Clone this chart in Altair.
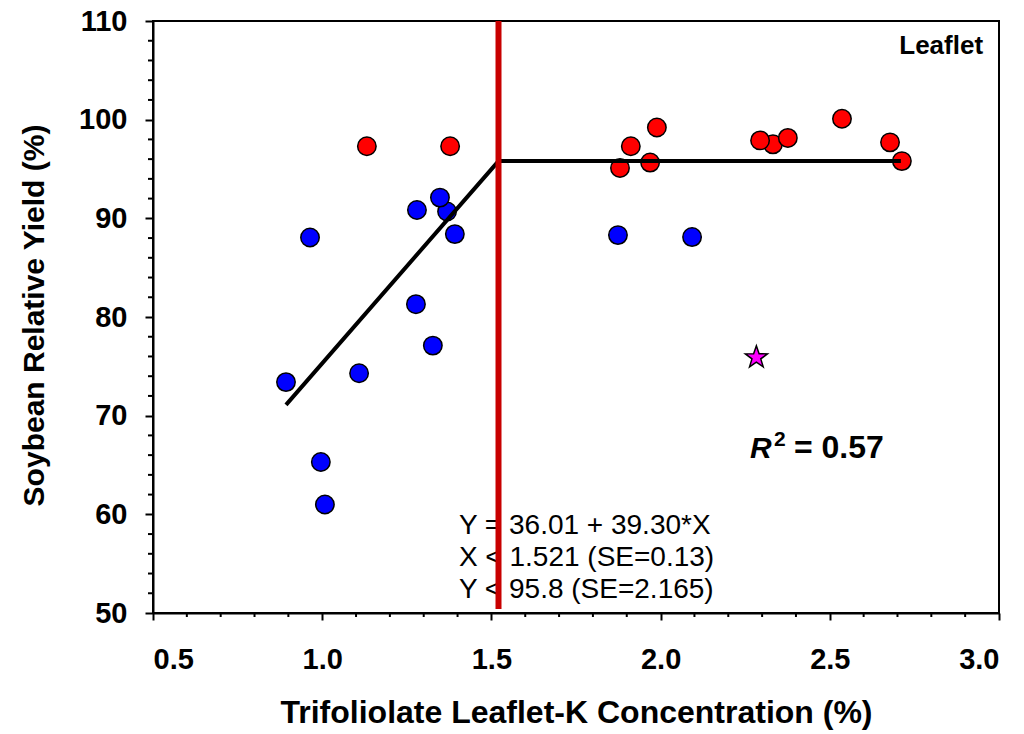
import altair as alt
import pandas as pd

# ---- data ----
blue_x = [0.893, 0.964, 0.996, 1.008, 1.109, 1.277, 1.280, 1.327, 1.369, 1.348, 1.392, 1.874, 2.093]
blue_y = [73.4, 88.05, 65.3, 61.0, 74.3, 81.3, 90.85, 77.1, 90.7, 92.1, 88.4, 88.3, 88.1]
red_x = [1.132, 1.378, 1.880, 1.912, 1.989, 1.969, 2.332, 2.294, 2.376, 2.536, 2.678, 2.713]
red_y = [97.3, 97.3, 95.1, 97.3, 99.2, 95.65, 97.5, 97.9, 98.15, 100.1, 97.7, 95.8]
star_x = [2.283]
star_y = [75.9]
fit_x = [0.893, 1.521, 2.71]
fit_y = [71.1, 95.8, 95.8]
joint_x = 1.521
x_ticks = [0.5, 1.0, 1.5, 2.0, 2.5, 3.0]
y_ticks = [50, 60, 70, 80, 90, 100, 110]
x_minor = [0.6, 0.7, 0.8, 0.9, 1.1, 1.2, 1.3, 1.4, 1.6, 1.7, 1.8, 1.9,
           2.1, 2.2, 2.3, 2.4, 2.6, 2.7, 2.8, 2.9]
y_minor = [52, 54, 56, 58, 62, 64, 66, 68, 72, 74, 76, 78,
           82, 84, 86, 88, 92, 94, 96, 98, 102, 104, 106, 108]
eq_lines = ["Y = 36.01 + 39.30*X", "X < 1.521 (SE=0.13)", "Y < 95.8 (SE=2.165)"]
eq_y = [58.0, 54.76, 51.52]
eq_x = 1.404

FONT = "Liberation Sans"
W, H = 846, 592

xs = alt.Scale(domain=[0.5, 3.0], nice=False, zero=False)
ys = alt.Scale(domain=[50, 110], nice=False, zero=False)

pts = pd.DataFrame({
    "x": blue_x + red_x,
    "y": blue_y + red_y,
    "grp": ["blue"] * len(blue_x) + ["red"] * len(red_x),
})

x_axis = alt.Axis(values=x_ticks, format=".1f", grid=False,
                  domainColor="black", domainWidth=2, tickColor="black",
                  tickWidth=2, tickSize=7, labelFont=FONT, labelFontSize=29,
                  labelFontWeight="bold", labelColor="black", labelPadding=25,
                  title="Trifoliolate Leaflet-K Concentration (%)",
                  titleFont=FONT, titleFontSize=32, titleFontWeight="bold",
                  titleColor="black", titleBaseline="alphabetic",
                  titleY=109, titleX=W / 2, titleAnchor="middle")
y_axis = alt.Axis(values=y_ticks, format="d", grid=False,
                  domainColor="black", domainWidth=2, tickColor="black",
                  tickWidth=2, tickSize=8, labelFont=FONT, labelFontSize=29,
                  labelFontWeight="bold", labelColor="black", labelPadding=18,
                  title="Soybean Relative Yield (%)",
                  titleFont=FONT, titleFontSize=30, titleFontWeight="bold",
                  titleColor="black", titleBaseline="alphabetic",
                  titleX=-110, titleY=294, titleAngle=270, titleAnchor="middle")


def X(field="x:Q"):
    return alt.X(field, scale=xs, axis=x_axis)


def Y(field="y:Q"):
    return alt.Y(field, scale=ys, axis=y_axis)


points = alt.Chart(pts).mark_point(
    filled=True, shape="circle", size=340, stroke="black", strokeWidth=1.5, opacity=1
).encode(
    x=X(), y=Y(),
    fill=alt.Fill("grp:N", scale=alt.Scale(domain=["blue", "red"], range=["#0000ff", "#ff0000"]), legend=None),
)

STAR = "M0,-1L0.235,-0.324L0.951,-0.309L0.38,0.124L0.588,0.809L0,0.4L-0.588,0.809L-0.38,0.124L-0.951,-0.309L-0.235,-0.324Z"
star = alt.Chart(pd.DataFrame({"x": star_x, "y": star_y})).mark_point(
    filled=True, shape=STAR, size=540, fill="#ff00ff", stroke="black", strokeWidth=1.5, opacity=1
).encode(x=X(), y=Y())

fit = alt.Chart(pd.DataFrame({"x": fit_x, "y": fit_y})).mark_line(
    color="black", strokeWidth=4
).encode(x=X(), y=Y())

eq = alt.Chart(pd.DataFrame({"x": [eq_x] * 3, "y": eq_y, "t": eq_lines})).mark_text(
    align="left", baseline="alphabetic", font=FONT, fontSize=28, color="black"
).encode(x=X(), y=Y(), text="t:N")

leaflet = alt.Chart(pd.DataFrame({"x": [2.953], "y": [106.7], "t": ["Leaflet"]})).mark_text(
    align="right", baseline="alphabetic", font=FONT, fontSize=26, fontWeight="bold", color="black"
).encode(x=X(), y=Y(), text="t:N")

r_txt = alt.Chart(pd.DataFrame({"x": [2.264], "y": [65.7], "t": ["R"]})).mark_text(
    align="left", baseline="alphabetic", font=FONT, fontSize=30, fontWeight="bold",
    fontStyle="italic", color="black"
).encode(x=X(), y=Y(), text="t:N")
sup_txt = alt.Chart(pd.DataFrame({"x": [2.335], "y": [66.9], "t": ["2"]})).mark_text(
    align="left", baseline="alphabetic", font=FONT, fontSize=21, fontWeight="bold", color="black"
).encode(x=X(), y=Y(), text="t:N")
val_txt = alt.Chart(pd.DataFrame({"x": [2.394], "y": [65.7], "t": ["= 0.57"]})).mark_text(
    align="left", baseline="alphabetic", font=FONT, fontSize=32, fontWeight="bold", color="black"
).encode(x=X(), y=Y(), text="t:N")

vline = alt.Chart(pd.DataFrame({"x": [joint_x], "y": [50.4], "y2": [110]})).mark_rule(
    color="#c80000", strokeWidth=6
).encode(x=X(), y=Y(), y2="y2:Q")

xminor = alt.Chart(pd.DataFrame({"x": x_minor})).mark_rule(color="black", strokeWidth=2).encode(
    x=X(), y=alt.value(H), y2=alt.value(H + 4))
yminor = alt.Chart(pd.DataFrame({"y": y_minor})).mark_rule(color="black", strokeWidth=2).encode(
    y=Y(), x=alt.value(0), x2=alt.value(-5))

chart = alt.layer(
    points, star, fit, eq, leaflet, r_txt, sup_txt, val_txt, vline, xminor, yminor
).properties(
    width=W, height=H,
    autosize=alt.AutoSizeParams(type="none"),
    padding={"left": 153, "top": 21, "right": 25, "bottom": 121},
    background="white",
).configure_view(stroke="black", strokeWidth=2)

chart.save("out.html", embed_options={"renderer": "svg", "actions": False})
